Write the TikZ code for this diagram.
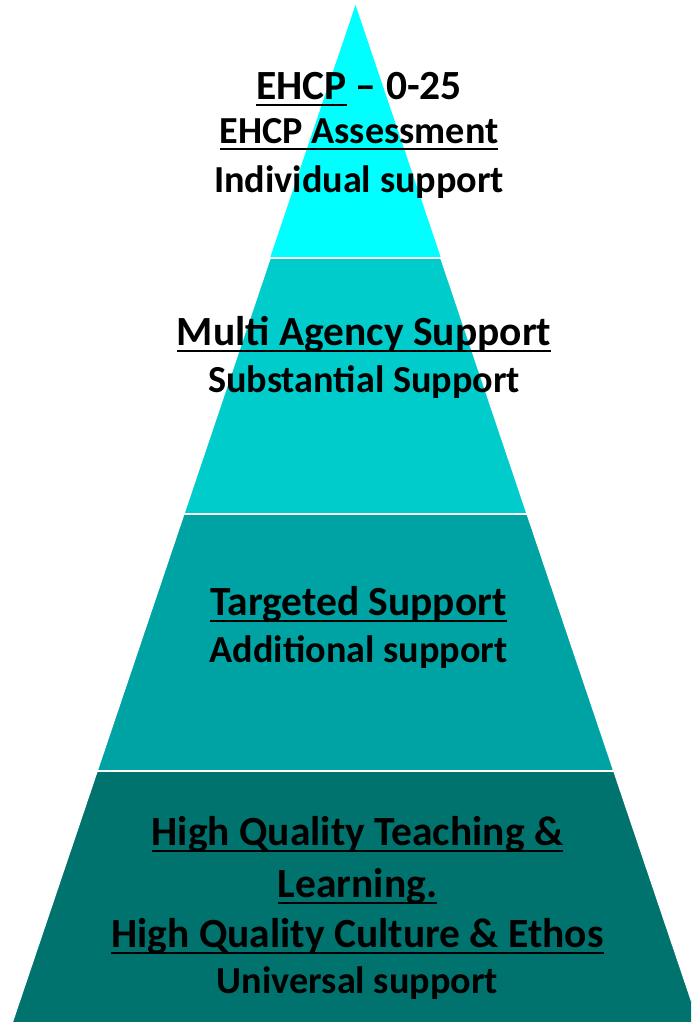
\documentclass[tikz,border=0pt]{standalone}
\usepackage{fontspec}
\setmainfont{Carlito}
\definecolor{tierA}{HTML}{00FFFF}
\definecolor{tierB}{HTML}{00CCCC}
\definecolor{tierC}{HTML}{00A3A3}
\definecolor{tierD}{HTML}{00736E}
% underline drawn as a fixed rule below the baseline
\newcommand\myul[1]{\setbox0\hbox{#1}\rlap{\rule[-7pt]{\wd0}{2pt}}\box0\relax}
\begin{document}
\begin{tikzpicture}[x=1pt,y=-1pt,
  tier/.style={draw=white,line width=1.6pt},
  lbl/.style={anchor=base,inner sep=0pt,font=\bfseries\fontsize{41.5}{44}\selectfont},
  sub/.style={anchor=base,inner sep=0pt,font=\bfseries\fontsize{38.2}{44}\selectfont}]
\useasboundingbox (0,0) rectangle (691,1023);
\begin{scope}
\clip (0,0) rectangle (691,1023);
% apex at (355.5,5), half width grows 0.3375 per unit of depth
\fill[tierA] (355.5,5) -- (441.0,258) -- (270.0,258) -- cycle;
\draw[tier,fill=tierB] (270.0,258) -- (441.0,258) -- (527.3,514) -- (183.7,514) -- cycle;
\draw[tier,fill=tierC] (183.7,514) -- (527.3,514) -- (614.0,771) -- (97.0,771) -- cycle;
\draw[tier,fill=tierD] (97.0,771) -- (614.0,771) -- (699.1,1023) -- (11.9,1023) -- cycle;
\end{scope}
% top tier
\node[lbl] (t1a) at (359,99) {\myul{EHCP} – 0-25};
\node[sub] (t1b) at (359,143) {\myul{EHCP Assessment}};
\node[sub] (t1c) at (359,192) {Individual support};
% second tier
\node[lbl] (t2a) at (364,345) {\myul{Multi Agency Support}};
\node[sub] (t2b) at (364,392) {Substantial Support};
% third tier
\node[lbl] (t3a) at (358.5,615) {\myul{Targeted Support}};
\node[sub] (t3b) at (358.5,662) {Additional support};
% base tier
\node[lbl] (t4a) at (357.5,845) {\myul{High Quality Teaching \&}};
\node[lbl] (t4b) at (357.5,897) {\myul{Learning.}};
\node[lbl] (t4c) at (357.5,947) {\myul{High Quality Culture \& Ethos}};
\node[sub] (t4d) at (357.5,993) {Universal support};
\end{tikzpicture}
\end{document}
